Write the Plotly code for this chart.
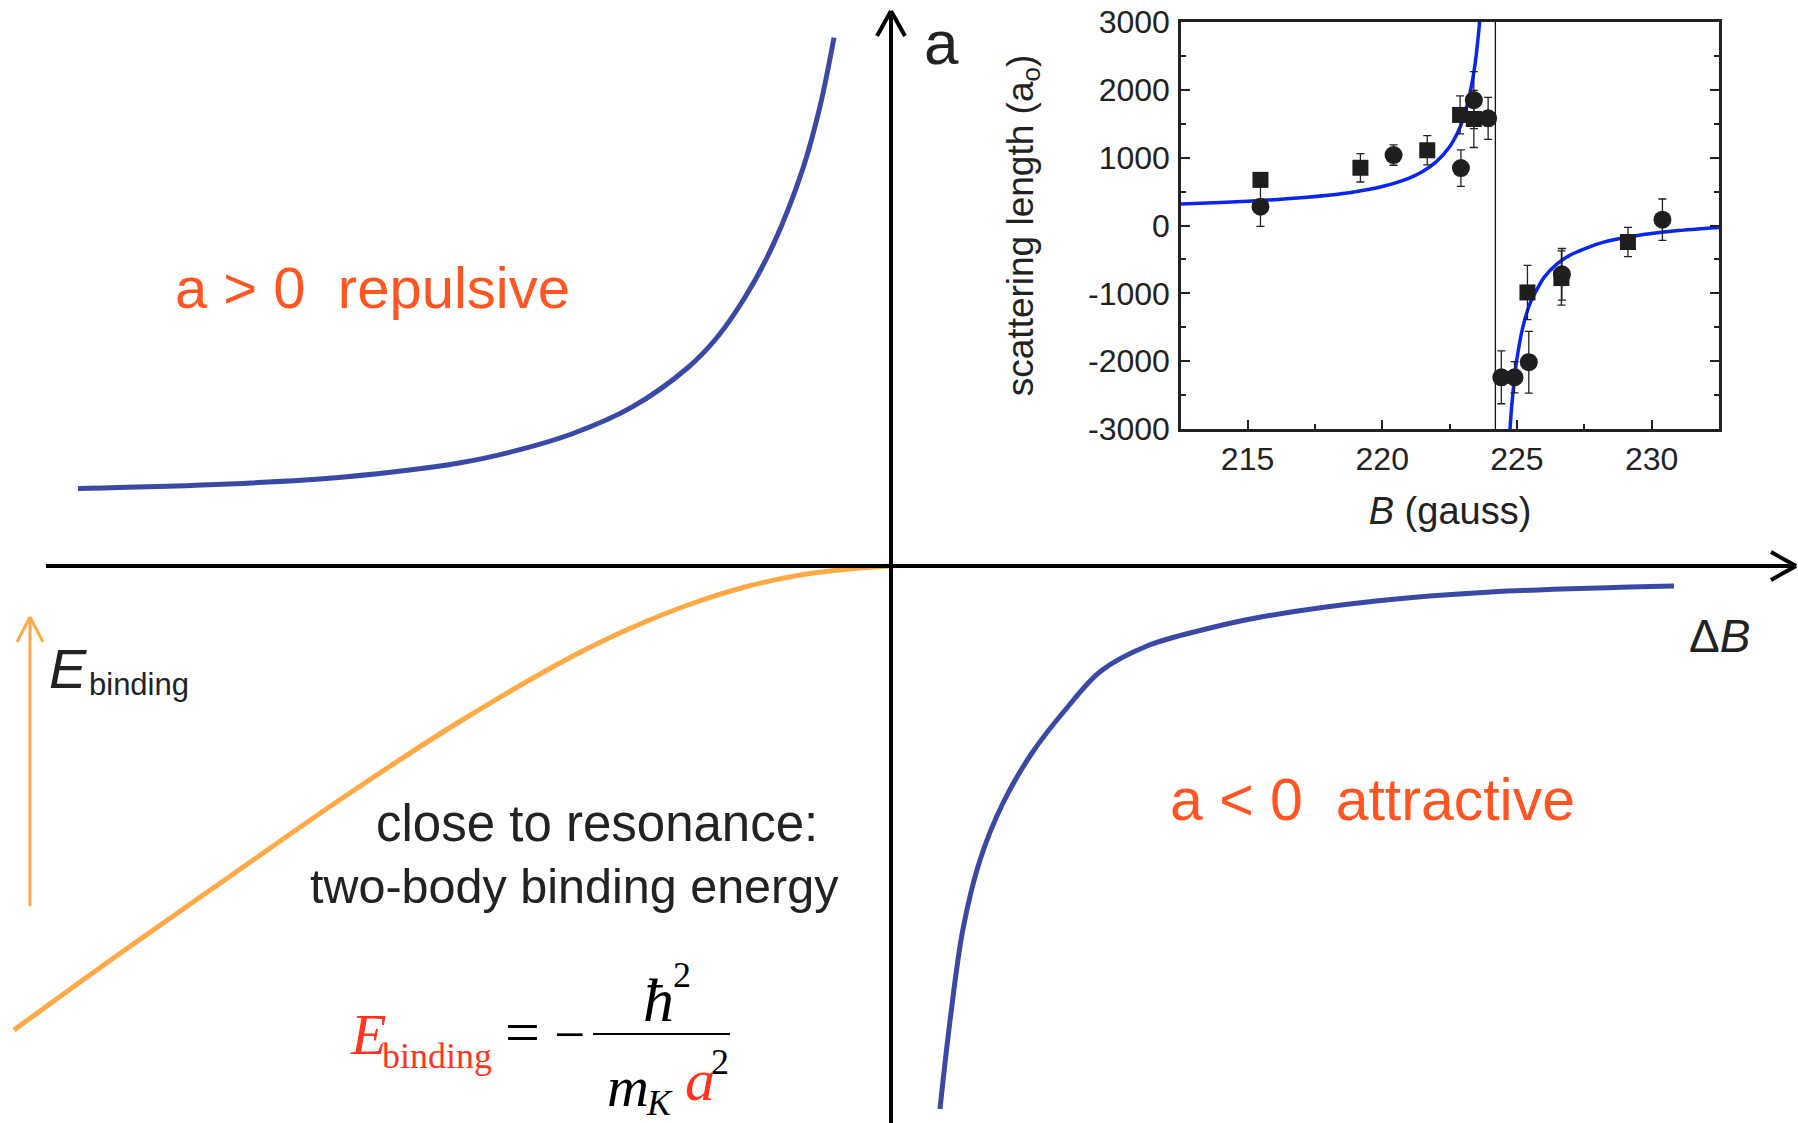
import plotly.graph_objects as go

# ---------------- data: schematic (arbitrary units, origin at axis crossing) ----------------
rep_x = [-813, -662, -547, -432, -375, -318, -260, -203, -174, -146, -117, -88, -71, -57]
rep_y = [77.5, 82, 89, 103, 115.3, 132.5, 158.3, 198.5, 228.5, 268.7, 323.1, 397.7, 459.6, 528.4]

att_x = [49, 59, 72, 89, 112, 141, 175, 210, 256, 313, 370, 485, 600, 783]
att_y = [-543, -455, -363, -294, -237, -187, -143, -105, -80, -63.5, -51, -35, -26, -20]

eb_x = [-877, -776, -662, -547, -432, -318, -260, -203, -146, -88, -42, 0]
eb_y = [-464, -391, -311, -231, -156, -90, -62, -39, -21, -8.5, -3, 0]

# ---------------- data: inset (scattering length vs B) ----------------
fit_left_B = [212.5, 214, 216, 218, 219, 220, 221, 221.5, 222, 222.5, 222.8, 223.0, 223.2, 223.4, 223.5, 223.6, 223.65]
fit_left_a = [318, 339, 380, 446, 498, 575, 700, 797, 938, 1161, 1371, 1569, 1845, 2258, 2551, 2941, 3188]
fit_right_B = [224.72, 224.8, 224.9, 225.0, 225.2, 225.5, 226.0, 226.5, 227.0, 228.0, 229.0, 230.0, 231.0, 232.6]
fit_right_a = [-3135, -2687, -2272, -1963, -1531, -1134, -769, -563, -431, -271, -178, -118, -75, -27]

sq_B = [215.48, 219.19, 221.67, 222.89, 223.40, 225.39, 226.65, 229.12]
sq_a = [673, 851, 1109, 1630, 1570, -987, -775, -243]
sq_err = [100, 210, 215, 280, 420, 400, 400, 215]

ci_B = [215.48, 220.42, 222.92, 223.40, 223.93, 224.42, 224.91, 225.44, 226.67, 230.40]
ci_a = [278, 1038, 846, 1848, 1580, -2238, -2238, -2015, -719, 86]
ci_err = [290, 150, 270, 420, 310, 390, 230, 455, 380, 305]

resonance_B = 224.2
x_ticks = [215, 220, 225, 230]
y_ticks = [-3000, -2000, -1000, 0, 1000, 2000, 3000]
y_ticktext = ["-3000", "-2000", "-1000", "0", "1000", "2000", "3000"]

# ---------------- layout helpers ----------------
W, H = 1798, 1123
X0, Y0 = 891, 566  # pixel position of schematic origin


def fx(p):
    return p / W


def fy(p):
    return 1 - p / H


SANS = "Liberation Sans, Arial, sans-serif"
SERIF = "Liberation Serif, Times New Roman, serif"
BLUE = "#3B49A6"
ORANGE = "#FFAA46"
REDTXT = "#FF5522"
DARK = "#222222"

fig = go.Figure()

fig.add_trace(go.Scatter(x=rep_x, y=rep_y, mode="lines",
                         line=dict(color=BLUE, width=5, shape="spline", smoothing=1.0),
                         xaxis="x", yaxis="y", hoverinfo="skip"))
fig.add_trace(go.Scatter(x=att_x, y=att_y, mode="lines",
                         line=dict(color=BLUE, width=5, shape="spline", smoothing=1.0),
                         xaxis="x", yaxis="y", hoverinfo="skip"))
fig.add_trace(go.Scatter(x=eb_x, y=eb_y, mode="lines",
                         line=dict(color=ORANGE, width=5, shape="spline", smoothing=1.0),
                         xaxis="x", yaxis="y", hoverinfo="skip"))

# inset
fig.add_trace(go.Scatter(x=[resonance_B, resonance_B], y=[-3000, 3000], mode="lines",
                         line=dict(color="#111", width=1.3), xaxis="x2", yaxis="y2"))
fig.add_trace(go.Scatter(x=fit_left_B, y=fit_left_a, mode="lines",
                         line=dict(color="#0826F0", width=3.5, shape="spline", smoothing=0.6),
                         xaxis="x2", yaxis="y2"))
fig.add_trace(go.Scatter(x=fit_right_B, y=fit_right_a, mode="lines",
                         line=dict(color="#0826F0", width=3.5, shape="spline", smoothing=0.6),
                         xaxis="x2", yaxis="y2"))
fig.add_trace(go.Scatter(x=sq_B, y=sq_a, mode="markers",
                         marker=dict(symbol="square", size=16, color="#1e1e1e"),
                         error_y=dict(type="data", array=sq_err, thickness=1.3, width=4, color="#222"),
                         xaxis="x2", yaxis="y2"))
fig.add_trace(go.Scatter(x=ci_B, y=ci_a, mode="markers",
                         marker=dict(symbol="circle", size=18, color="#1e1e1e"),
                         error_y=dict(type="data", array=ci_err, thickness=1.3, width=4, color="#222"),
                         xaxis="x2", yaxis="y2"))

shapes = []
def seg(x1, y1, x2, y2, color="black", width=4):
    shapes.append(dict(type="line", xref="paper", yref="paper",
                       x0=fx(x1), y0=fy(y1), x1=fx(x2), y1=fy(y2),
                       line=dict(color=color, width=width), layer="above"))

# main axes with open arrowheads
seg(46, Y0, 1796, Y0)
seg(1771, 552, 1796, Y0)
seg(1771, 580, 1796, Y0)
seg(X0, H, X0, 11)
seg(877, 36, X0, 11)
seg(905, 36, X0, 11)
# orange energy arrow
seg(30, 906, 30, 617, color=ORANGE, width=3)
seg(17, 642, 30, 617, color=ORANGE, width=3)
seg(43, 642, 30, 617, color=ORANGE, width=3)
# fraction bar
seg(593, 1034, 730, 1034, color="black", width=2)

annotations = []
def txt(text, x, y, size, color=DARK, family=SANS, xanchor="center", yanchor="middle"):
    annotations.append(dict(text=text, x=fx(x), y=fy(y), xref="paper", yref="paper",
                            showarrow=False, xanchor=xanchor, yanchor=yanchor,
                            font=dict(size=size, color=color, family=family)))

NB = "\u00a0"
txt("a" + NB + ">" + NB + "0" + NB * 2 + "repulsive", 372, 287, 58, REDTXT)
txt("a" + NB + "<" + NB + "0" + NB * 2 + "attractive", 1372, 800, 59, REDTXT)
txt("close to resonance:", 597, 823, 51)
txt("two-body binding energy", 574, 886, 48.5)
txt("a", 941, 42, 62)
txt("\u0394<i>B</i>", 1719, 636, 46)
txt("<i>E</i>", 68, 668, 56)
txt("binding", 87, 684, 31, xanchor="left")

# formula
FRED = "#FF3322"
txt("<i>E</i>", 368, 1034, 58, FRED, SERIF)
txt("binding", 380, 1056, 36, FRED, SERIF, xanchor="left")
txt("=", 522, 1032, 62, "black", SERIF)
txt("\u2212", 569, 1034, 55, "black", SERIF)
txt("<i>\u0127</i>", 658, 1000, 62, "black", SERIF)
txt("2", 682, 975, 36, "black", SERIF)
txt("<i>m</i>", 628, 1086, 58, "black", SERIF)
txt("<i>K</i>", 659, 1103, 36, "black", SERIF)
txt("<i>a</i>", 700, 1080, 60, FRED, SERIF)
txt("2", 720, 1062, 36, "black", SERIF)

fig.update_layout(
    width=W, height=H, margin=dict(l=0, r=0, t=0, b=0, pad=0, autoexpand=False),
    paper_bgcolor="white", plot_bgcolor="rgba(0,0,0,0)", showlegend=False,
    xaxis=dict(domain=[0, 1], range=[-X0, W - X0], visible=False, fixedrange=True, automargin=False),
    yaxis=dict(domain=[0, 1], range=[-(H - Y0), Y0], visible=False, fixedrange=True, automargin=False),
    xaxis2=dict(domain=[fx(1181), fx(1719)], anchor="y2", range=[212.53, 232.5], automargin=False,
                tickvals=x_ticks, ticks="inside", ticklen=9, tickwidth=2, tickcolor="#222",
                minor=dict(ticks="inside", dtick=2.5, tick0=212.5, ticklen=5, tickwidth=2, tickcolor="#222"),
                showline=True, linewidth=2.5, linecolor="#222", mirror=True,
                showgrid=False, zeroline=False, ticklabelstandoff=0,
                tickfont=dict(size=32, family=SANS, color=DARK),
                title=dict(text="<i>B</i> (gauss)", font=dict(size=38, family=SANS, color=DARK), standoff=22)),
    yaxis2=dict(domain=[fy(429), fy(22)], anchor="x2", range=[-3000, 3000], automargin=False,
                tickvals=y_ticks, ticktext=y_ticktext, ticks="inside", ticklen=9, tickwidth=2, tickcolor="#222",
                minor=dict(ticks="inside", dtick=500, ticklen=5, tickwidth=2, tickcolor="#222"),
                showline=True, linewidth=2.5, linecolor="#222", mirror="ticks",
                showgrid=False, zeroline=False, ticklabelstandoff=2,
                tickfont=dict(size=32, family=SANS, color=DARK),
                title=dict(text="scattering length (a<sub>o</sub>)", font=dict(size=37, family=SANS, color=DARK), standoff=44)),
    shapes=shapes, annotations=annotations,
)

fig.write_html("out.html")
